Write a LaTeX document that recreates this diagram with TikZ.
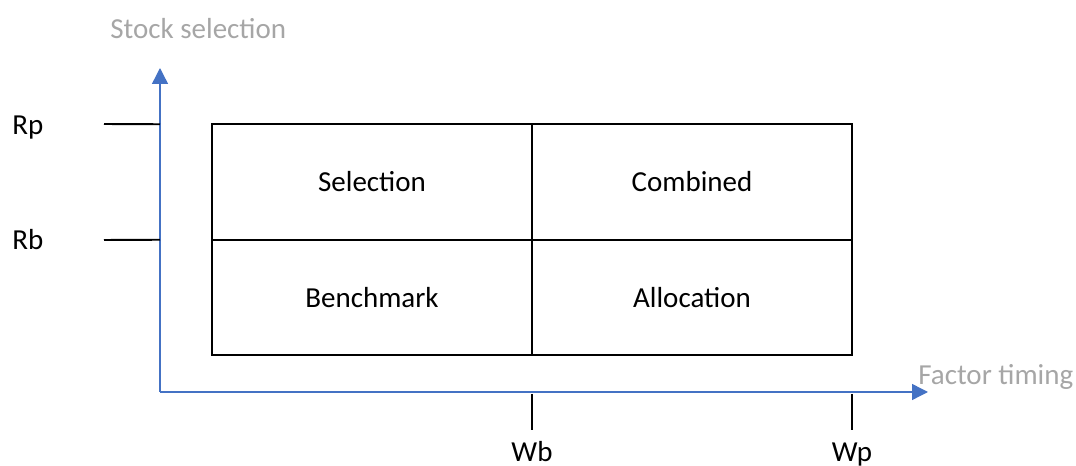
\documentclass[tikz,border=0pt]{standalone}
\usepackage{fontspec}
\setmainfont{Carlito}
\usetikzlibrary{positioning,arrows.meta}

\definecolor{axisblue}{RGB}{68,114,196}
\definecolor{labelgray}{RGB}{166,166,166}

\tikzset{
	cell/.style={draw, line width=1.1pt, minimum width=6.4cm, minimum height=2.31cm, inner sep=0pt, outer sep=0pt},
	axis/.style={axisblue, line width=0.8pt, -{Triangle[length=0.32cm, width=0.32cm]}},
	tick/.style={line width=1.1pt},
	txt/.style={font=\fontsize{16.5}{19}\selectfont, inner sep=0pt},
	axislabel/.style={txt, text=labelgray}
}

\begin{document}
\begin{tikzpicture}
		\useasboundingbox (0, 0) rectangle (21.52, 9.32);

		% 四个格子
		\node[cell, txt] (selection) at (7.44, 5.68) {Selection};
		\node[cell, txt, right=0pt of selection] (combined) {Combined};
		\node[cell, txt, below=0pt of selection] (benchmark) {Benchmark};
		\node[cell, txt, right=0pt of benchmark] (allocation) {Allocation};

		% 坐标轴
		\coordinate (origin) at (3.2, 1.48);
		\coordinate (ytop) at (3.2, 7.96);
		\coordinate (xend) at (18.56, 1.48);
		\draw[axis] (origin) -- (ytop);
		\draw[axis] (origin) -- (xend);
		\node[axislabel, anchor=base west] (stocksel) at (2.2, 8.54) {Stock selection};
		\node[axislabel, anchor=base west] (factortime) at (18.36, 1.62) {Factor timing};

		% 纵轴刻度
		\coordinate (rpend) at (origin |- selection.north);
		\coordinate (rbend) at (origin |- selection.south);
		\draw[tick] (2.08, 6.84) -- (rpend);
		\draw[tick] (2.08, 4.52) -- (rbend);
		\node[txt, anchor=base west] (rp) at (0.24, 6.62) {Rp};
		\node[txt, anchor=base west] (rb) at (0.24, 4.32) {Rb};

		% 横轴刻度
		\coordinate (wbtop) at (benchmark.south east |- 0, 1.44);
		\coordinate (wptop) at (allocation.south east |- 0, 1.44);
		\draw[tick] (wbtop) -- ++(0, -0.72);
		\draw[tick] (wptop) -- ++(0, -0.72);
		\node[txt, anchor=base] (wb) at (10.64, 0.08) {Wb};
		\node[txt, anchor=base] (wp) at (17.04, 0.08) {Wp};
	\end{tikzpicture}
\end{document}
